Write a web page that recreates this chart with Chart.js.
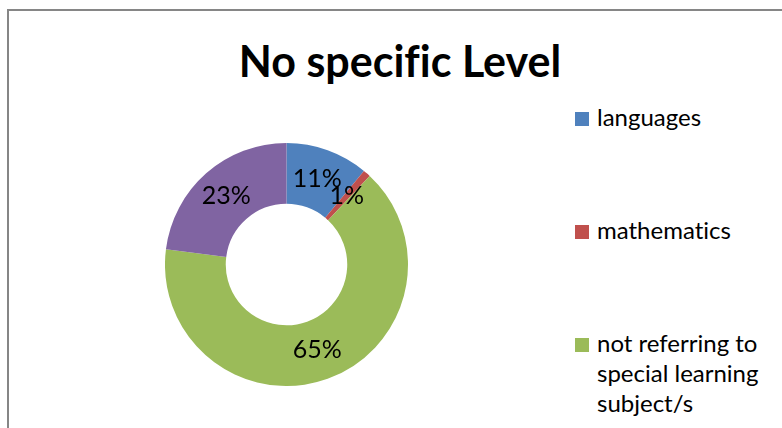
<!DOCTYPE html>
<html lang="en">
<head>
    <meta charset="UTF-8">
    <title>No specific Level</title>
    <script src="https://cdn.jsdelivr.net/npm/chart.js@4/dist/chart.umd.min.js"></script>
    <style>
        html, body {
            margin: 0;
            width: 782px;
            height: 428px;
            overflow: hidden;
            background: #ffffff;
            font-family: 'Lato', sans-serif;
            font-variant-ligatures: none;
        }
        #frame {
            position: absolute;
            left: 7px;
            top: 9px;
            width: 900px;
            height: 600px;
            border-left: 2px solid #868686;
            border-top: 2px solid #868686;
        }
        #title {
            position: absolute;
            left: 0;
            width: 800px;
            top: 35px;
            text-align: center;
            font-size: 43px;
            font-weight: bold;
            line-height: 1.2;
            color: #000;
        }
        #donut {
            position: absolute;
            left: 165px;
            top: 143px;
            width: 243px;
            height: 243px;
        }
        #legend {
            position: absolute;
            left: 575px;
            top: 102px;
            margin: 0;
            padding: 0;
            list-style: none;
        }
        #legend li {
            display: flex;
            align-items: flex-start;
            margin-bottom: 83px;
            font-size: 24px;
            line-height: 30px;
            color: #000;
        }
        #legend .box {
            flex: none;
            width: 14px;
            height: 14px;
            margin-top: 10px;
            margin-right: 8px;
        }
        #legend .text {
            width: 180px;
        }
    </style>
</head>
<body>

<div id="frame"></div>
<div id="title">No specific Level</div>
<div id="donut"><canvas id="chart"></canvas></div>
<ul id="legend"></ul>

<script>
    // Subject shares, in percent
    var subjects = ['languages', 'mathematics', 'not referring to special learning subject/s', 'other'];
    var shares = [11, 1, 65, 23];
    var colors = ['#4F81BD', '#C0504D', '#9BBB59', '#8064A2'];

    // Legend built as plain HTML so the items can wrap and space out;
    // only the entries that fit above the bottom edge are listed
    var shownInLegend = 3;
    var legend = document.getElementById('legend');
    subjects.slice(0, shownInLegend).forEach(function(name, i) {
        var li = document.createElement('li');
        li.innerHTML = '<span class="box" style="background:' + colors[i] + '"></span>' +
                       '<span class="text">' + name + '</span>';
        legend.appendChild(li);
    });

    // Percentage text in the middle of each ring segment
    var sliceLabels = {
        id: 'sliceLabels',
        afterDatasetsDraw: function(chart) {
            var ctx = chart.ctx;
            var meta = chart.getDatasetMeta(0);
            ctx.save();
            ctx.font = '25px Lato';
            ctx.fillStyle = '#000';
            ctx.textAlign = 'center';
            ctx.textBaseline = 'middle';
            meta.data.forEach(function(arc, i) {
                var pos = arc.tooltipPosition();
                ctx.fillText(shares[i] + '%', pos.x, pos.y);
            });
            ctx.restore();
        }
    };

    var ctx = document.getElementById('chart').getContext('2d');
    var chart = new Chart(ctx, {
        type: 'doughnut',
        data: {
            labels: subjects,
            datasets: [{
                data: shares,
                backgroundColor: colors,
                borderWidth: 0
            }]
        },
        options: {
            responsive: true,
            maintainAspectRatio: false,
            animation: false,
            cutout: '50%',
            plugins: {
                legend: { display: false },
                tooltip: { enabled: false }
            }
        },
        plugins: [sliceLabels]
    });
</script>
</body>
</html>
